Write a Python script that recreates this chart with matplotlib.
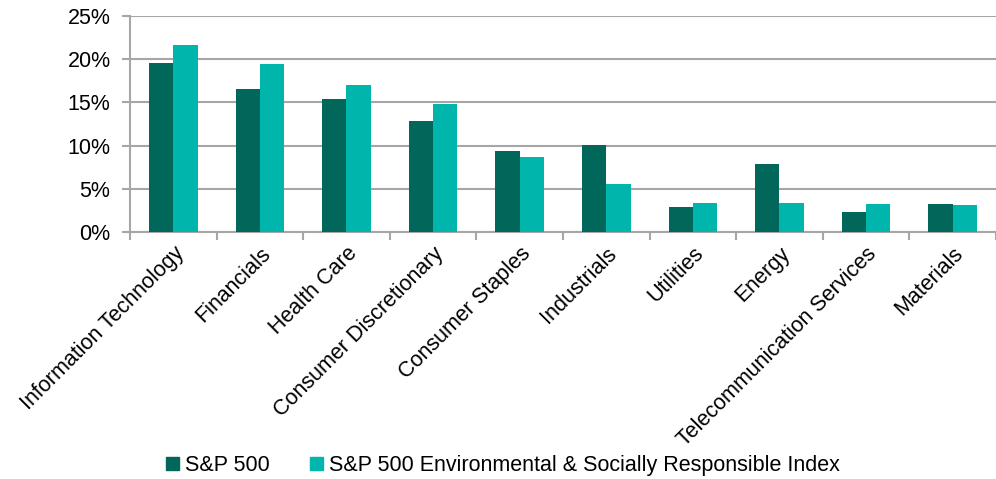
import numpy as np
import matplotlib
matplotlib.use("Agg")
import matplotlib.pyplot as plt
from matplotlib.patches import Patch

plt.rcParams["font.family"] = ["Liberation Sans", "DejaVu Sans"]

sectors = [
    "Information Technology", "Financials", "Health Care",
    "Consumer Discretionary", "Consumer Staples", "Industrials",
    "Utilities", "Energy", "Telecommunication Services", "Materials",
]
sp500 = [19.6, 16.6, 15.4, 12.8, 9.4, 10.1, 2.85, 7.85, 2.3, 3.2]
esg_index = [21.6, 19.5, 17.0, 14.8, 8.7, 5.55, 3.3, 3.3, 3.25, 3.1]
series_names = ["S&P 500", "S&P 500 Environmental & Socially Responsible Index"]

DARK = "#00675A"
TEAL = "#00B5AB"
GRID = "#A6A6A6"

fig = plt.figure(figsize=(9.96, 4.79), dpi=100)
ax = fig.add_axes([0.1305, 0.5157, 0.8695, 0.4509])

x = np.arange(len(sectors))
w = 0.28
ax.bar(x - w / 2, sp500, width=w, color=DARK, zorder=3)
ax.bar(x + w / 2, esg_index, width=w, color=TEAL, zorder=3)

ax.set_xlim(-0.5, len(sectors) - 0.5)
ax.set_ylim(0, 25)
ax.set_yticks(np.arange(0, 26, 5))
ax.set_yticklabels([f"{v}%" for v in range(0, 26, 5)], fontsize=15.5)
ax.yaxis.grid(True, color=GRID, lw=1.5, zorder=0)

# category labels centred, tick marks on the boundaries
ax.set_xticks(x)
ax.set_xticklabels(sectors, rotation=45, ha="right", rotation_mode="anchor",
                   fontsize=15.5)
ax.tick_params(axis="x", length=0, pad=8)
ax.set_xticks(np.arange(-0.5, len(sectors), 1), minor=True)
ax.tick_params(axis="x", which="minor", length=6, width=1.5, color=GRID)
ax.tick_params(axis="y", length=6, width=1.5, color=GRID, pad=8)

for side in ["top", "right"]:
    ax.spines[side].set_visible(False)
for side in ["left", "bottom"]:
    ax.spines[side].set_color(GRID)
    ax.spines[side].set_linewidth(1.5)

handles = [Patch(color=DARK), Patch(color=TEAL)]
fig.legend(handles, series_names, loc="center", bbox_to_anchor=(0.505, 0.028),
           ncol=2, frameon=False, fontsize=15.5, handlelength=0.6,
           handleheight=0.6, handletextpad=0.25, columnspacing=1.9)

fig.savefig("out.png", dpi=100)
